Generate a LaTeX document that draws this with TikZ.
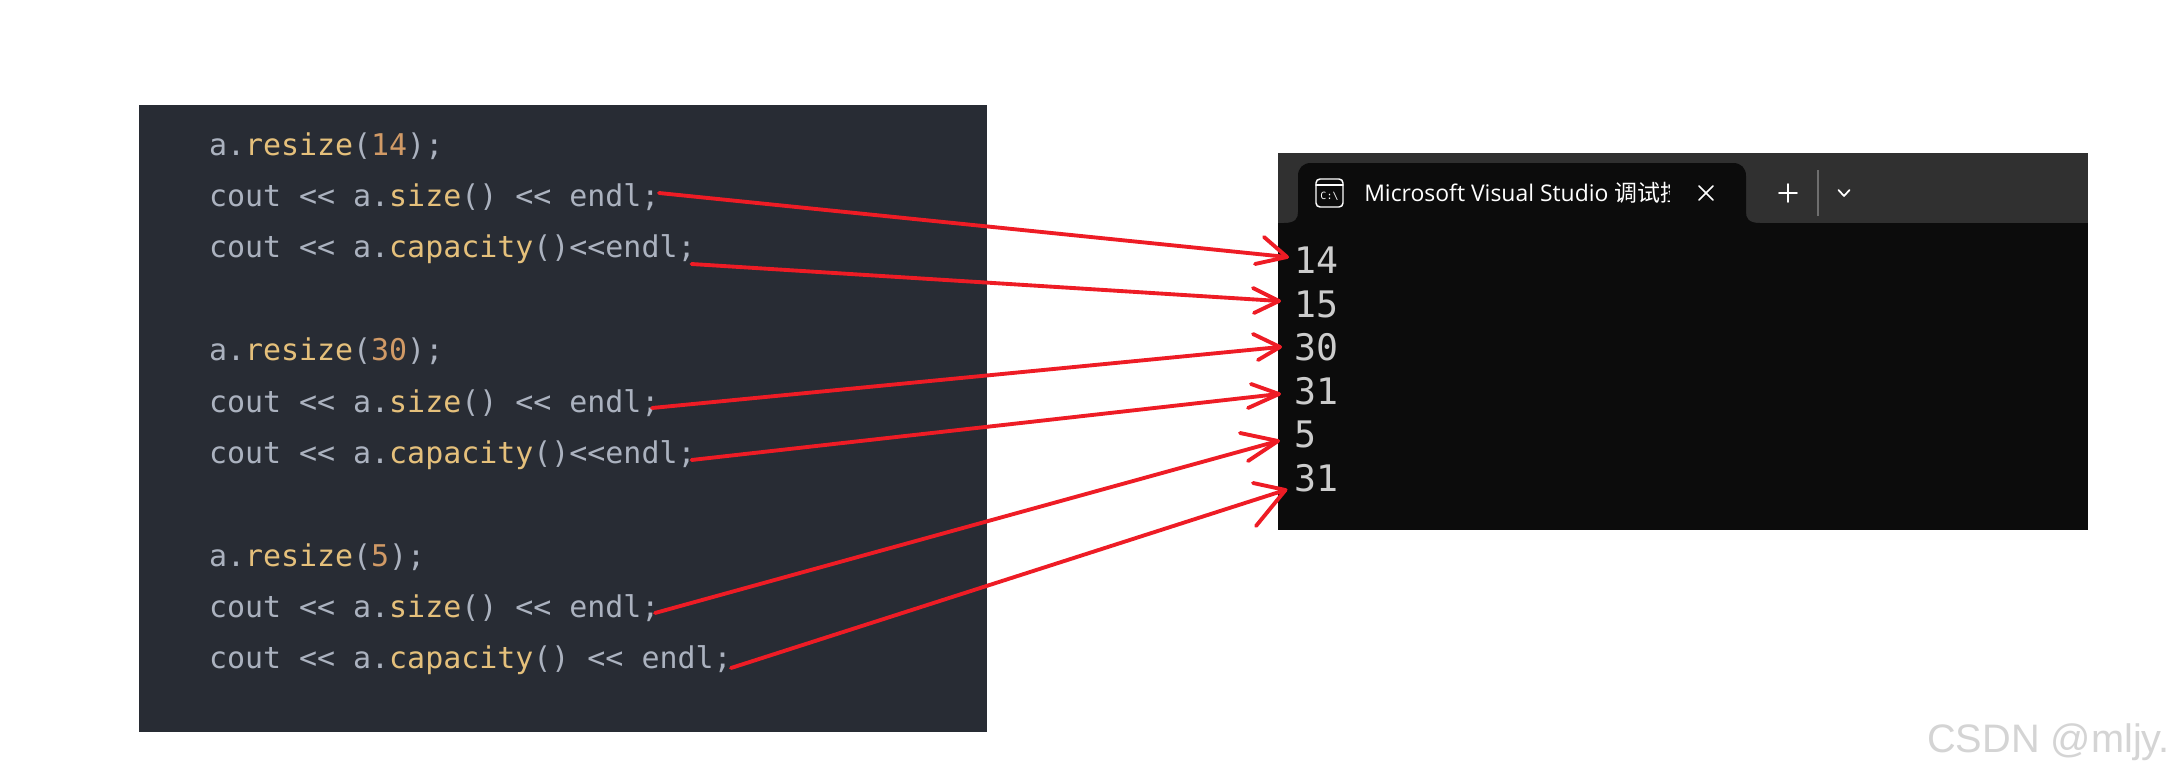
\documentclass[tikz,border=0pt]{standalone}
\usepackage{fontspec}
\newfontfamily\codefont{DejaVu Sans Mono}
\newfontfamily\uifont{Open Sans}
\newfontfamily\cjkfont{Noto Sans CJK SC}
\newfontfamily\markfont{Liberation Sans}
\definecolor{codebg}{HTML}{282C34}
\definecolor{codefg}{HTML}{ABB2BF}
\definecolor{codefn}{HTML}{E5C07B}
\definecolor{codenum}{HTML}{D19A66}
\definecolor{termbg}{HTML}{0C0C0C}
\definecolor{termbar}{HTML}{303030}
\definecolor{termfg}{HTML}{CCCCCC}
\definecolor{arrowred}{HTML}{EE1C25}
\newcommand{\fn}[1]{\textcolor{codefn}{#1}}
\newcommand{\num}[1]{\textcolor{codenum}{#1}}
\tikzset{
  codeline/.style={anchor=base west,inner sep=0pt,outer sep=0pt,text=codefg,font=\codefont\fontsize{22.45pt}{26pt}\selectfont},
  termline/.style={anchor=base west,inner sep=0pt,outer sep=0pt,text=termfg,font=\codefont\fontsize{27.4pt}{30pt}\selectfont},
  redline/.style={draw=arrowred,line width=2.9pt,line join=round,line cap=round},
  uiline/.style={draw=white,line width=1.3pt,line cap=round,line join=round}
}
\begin{document}
\begin{tikzpicture}[x=0.75pt,y=-0.75pt]
\useasboundingbox (0,0) rectangle (2171,774);
\fill[white] (0,0) rectangle (2171,774);
% code panel
\fill[codebg] (139,105) rectangle (987,732);
\node[codeline] (c1) at (209,155) {a.\fn{resize}(\num{14});};
\node[codeline] (c2) at (209,206) {cout << a.\fn{size}() << endl;};
\node[codeline] (c3) at (209,257) {cout << a.\fn{capacity}()<<endl;};
\node[codeline] (c4) at (209,360) {a.\fn{resize}(\num{30});};
\node[codeline] (c5) at (209,412) {cout << a.\fn{size}() << endl;};
\node[codeline] (c6) at (209,463) {cout << a.\fn{capacity}()<<endl;};
\node[codeline] (c7) at (209,566) {a.\fn{resize}(\num{5});};
\node[codeline] (c8) at (209,617) {cout << a.\fn{size}() << endl;};
\node[codeline] (c9) at (209,668) {cout << a.\fn{capacity}() << endl;};
% terminal
\fill[termbar] (1278,153) rectangle (2088,230);
\fill[termbg] (1278,223) rectangle (2088,530);
\fill[termbg] (1284,223) .. controls (1296,223) and (1298,218) .. (1298,212) -- (1298,176)
  .. controls (1298,168) and (1303,163) .. (1311,163) -- (1733,163)
  .. controls (1741,163) and (1746,168) .. (1746,176) -- (1746,212)
  .. controls (1746,218) and (1748,223) .. (1760,223) -- cycle;
% tab icon
\draw[uiline,line width=1.1pt,rounded corners=3pt] (1316,179) rectangle (1343,207);
\draw[uiline,line width=1.1pt] (1316,185) -- (1343,185);
\node[inner sep=0pt,text=white,font=\codefont\fontsize{7.5pt}{8pt}\selectfont] (icontext) at (1329.5,196) {C:\textbackslash};
% tab title, cut off by the tab as in the picture
\begin{scope}
\clip (1360,170) rectangle (1669,216);
\node[anchor=base west,inner sep=0pt,text=white] (title) at (1364,201)
  {\uifont\fontsize{17.2pt}{20pt}\selectfont Microsoft Visual Studio \cjkfont 调试控制台};
\end{scope}
% tab controls
\draw[uiline] (1699,186) -- (1713,200);
\draw[uiline] (1713,186) -- (1699,200);
\draw[uiline] (1788,184) -- (1788,202);
\draw[uiline] (1779,193) -- (1797,193);
\draw[draw=termbar!70!white,line width=1pt] (1818,170) -- (1818,216);
\draw[uiline] (1838.5,190) -- (1844,196) -- (1849.5,190);
% terminal output
\node[termline] (t1) at (1294,273) {14};
\node[termline] (t2) at (1294,317) {15};
\node[termline] (t3) at (1294,360) {30};
\node[termline] (t4) at (1294,404) {31};
\node[termline] (t5) at (1294,447) {5};
\node[termline] (t6) at (1294,491) {31};
% arrows
\coordinate (s1) at (659,193); \coordinate (e1) at (1287,257);
\coordinate (s2) at (691.5,264); \coordinate (e2) at (1279,301);
\coordinate (s3) at (652,408); \coordinate (e3) at (1280,347);
\coordinate (s4) at (691.5,460); \coordinate (e4) at (1279,394);
\coordinate (s5) at (655,613); \coordinate (e5) at (1278,441);
\coordinate (s6) at (731,668); \coordinate (e6) at (1285.5,490);
\coordinate (a1) at (1264,237); \coordinate (b1) at (1255,264);
\coordinate (a2) at (1253,288); \coordinate (b2) at (1254,313);
\coordinate (a3) at (1253,334); \coordinate (b3) at (1258,360);
\coordinate (a4) at (1251,384); \coordinate (b4) at (1248,408);
\coordinate (a5) at (1240,433); \coordinate (b5) at (1248,461);
\coordinate (a6) at (1253,483); \coordinate (b6) at (1256,526);
\foreach \i in {1,...,6} {
  \draw[redline] (s\i) -- (e\i);
  \draw[redline] (a\i) -- (e\i) -- (b\i);
}
% watermark
\node[anchor=base west,inner sep=0pt,text=black!17,font=\markfont\fontsize{29.8pt}{34pt}\selectfont] (mark) at (1927,752) {CSDN @mljy.};
\end{tikzpicture}
\end{document}
